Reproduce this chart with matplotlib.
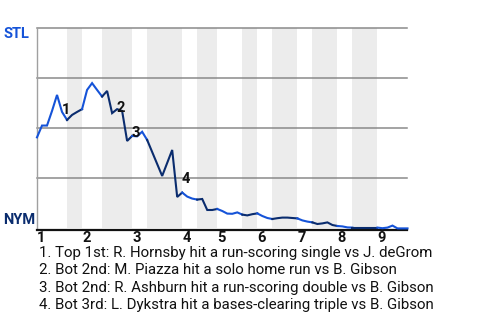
import matplotlib
matplotlib.use("Agg")
import matplotlib.pyplot as plt
from matplotlib.patches import Rectangle

# ---- data ----
# win probability for STL (1 = STL, 0 = NYM) after each plate appearance
wp = [0.455, 0.514, 0.514, 0.587, 0.667, 0.582, 0.542,
      0.567, 0.582, 0.596,
      0.692, 0.726, 0.692, 0.659,
      0.687, 0.576, 0.596, 0.587, 0.437, 0.462,
      0.460, 0.483, 0.442,
      0.382, 0.322, 0.262, 0.327, 0.392, 0.157, 0.179,
      0.159, 0.149, 0.144,
      0.147, 0.092, 0.092, 0.097,
      0.087, 0.074, 0.073, 0.080, 0.069,
      0.065, 0.071, 0.075,
      0.062, 0.052, 0.047,
      0.051, 0.054, 0.054, 0.052, 0.050,
      0.040, 0.034, 0.030,
      0.022, 0.025, 0.030, 0.017, 0.012,
      0.010, 0.005, 0.004,
      0.004, 0.004, 0.004, 0.004, 0.004,
      0.001, 0.004, 0.014, 0.0, 0.0, 0.0]

# plate-appearance index where each half inning ends
half_bounds = [0, 6, 9, 13, 19, 22, 29, 32, 36, 41, 44, 47, 52, 55, 60, 63, 68, 74]
inning_labels = ["1", "2", "3", "4", "5", "6", "7", "8", "9"]

event_index = [4, 15, 18, 28]
event_labels = ["1", "2", "3", "4"]
event_offsets_px = [(5, -15), (4, 5), (4, 8), (4, 18)]

captions = [
    "1. Top 1st: R. Hornsby hit a run-scoring single vs J. deGrom",
    "2. Bot 2nd: M. Piazza hit a solo home run vs B. Gibson",
    "3. Bot 2nd: R. Ashburn hit a run-scoring double vs B. Gibson",
    "4. Bot 3rd: L. Dykstra hit a bases-clearing triple vs B. Gibson",
]

team_top, team_bottom = "STL", "NYM"
color_top = "#1553d8"
color_bot = "#0a2c6e"

plt.rcParams['font.family'] = ['Roboto', 'DejaVu Sans']

fig = plt.figure(figsize=(4.8, 3.2), dpi=100)
W, H = 480, 320
ax = fig.add_axes([37 / W, 1 - 228.4 / H, (407.5 - 37) / W, (228.4 - 28.3) / H])
ax.set_xlim(0, half_bounds[-1])
ax.set_ylim(0, 1)

# shaded bottom halves
for i in range(1, len(half_bounds) - 1, 2):
    x0, x1 = half_bounds[i], half_bounds[i + 1]
    ax.add_patch(Rectangle((x0, 0), x1 - x0, 1, facecolor="#ececec",
                           edgecolor="none", zorder=0))

# grid lines
for gy in [0.25, 0.5, 0.75, 1.0]:
    ax.axhline(gy, color="#8a8a8a", lw=1.1, zorder=1, clip_on=False)

# win probability line, coloured by half inning
for i in range(len(half_bounds) - 1):
    a, b = half_bounds[i], half_bounds[i + 1]
    xs = list(range(a, b + 1))
    ys = wp[a:b + 1]
    ax.plot(xs, ys, color=color_top if i % 2 == 0 else color_bot,
            lw=1.5, zorder=3, clip_on=False, solid_joinstyle="miter")

# event annotations
for idx, lab, off in zip(event_index, event_labels, event_offsets_px):
    ax.annotate(lab, xy=(idx, wp[idx]), xytext=off, textcoords="offset pixels",
                ha="left", va="center", fontsize=10.5, fontweight="bold",
                color="#111111", zorder=4)

# spines
for s in ["top", "right"]:
    ax.spines[s].set_visible(False)
ax.spines["left"].set_color("#a0a0a0")
ax.spines["left"].set_linewidth(1)
ax.spines["bottom"].set_color("#111111")
ax.spines["bottom"].set_linewidth(1.6)
ax.spines["bottom"].set_position(("outward", 1.2))
ax.set_yticks([])
ax.set_xticks([half_bounds[i] for i in range(0, len(half_bounds) - 1, 2)])
ax.set_xticklabels(inning_labels, fontsize=10.5, fontweight="bold", color="#111111",
                   ha="left")
ax.tick_params(axis="x", length=0, pad=1)

# team labels
fig.text(3 / W, 1 - 34 / H, team_top, ha="left", va="center",
         fontsize=10.5, fontweight="bold", color=color_top)
fig.text(3 / W, 1 - 220.5 / H, team_bottom, ha="left", va="center",
         fontsize=10.5, fontweight="bold", color=color_bot)

# captions
for k, cap in enumerate(captions):
    fig.text(39 / W, 1 - (253 + 17.4 * k) / H, cap, ha="left", va="center",
             fontsize=10.8, color="#111111")

fig.savefig("out.png", dpi=100)
